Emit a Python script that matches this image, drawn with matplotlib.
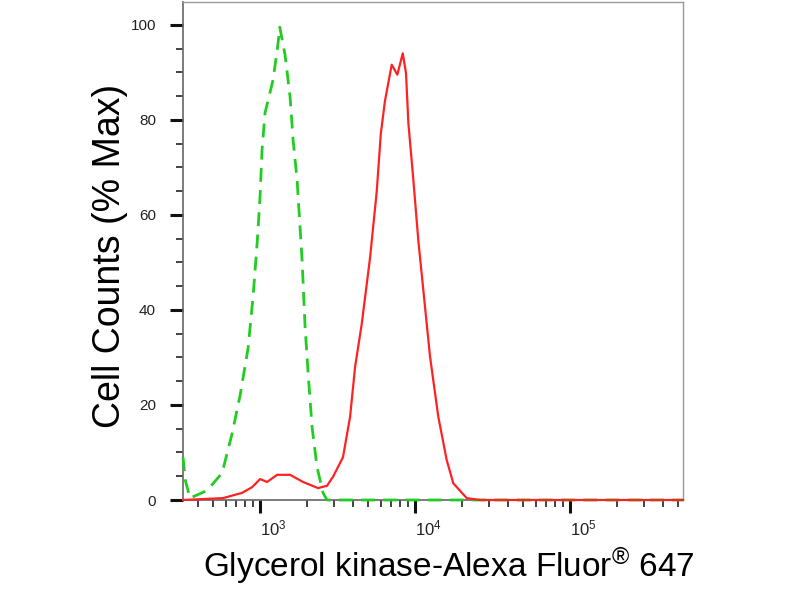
import matplotlib
matplotlib.use("Agg")
import matplotlib.pyplot as plt
from matplotlib.ticker import LogLocator, MultipleLocator, FixedLocator

plt.rcParams["font.family"] = ["Liberation Sans", "DejaVu Sans"]
plt.rcParams["mathtext.default"] = "regular"

# === histogram traces (fluorescence, % max) ===
control_x = [318, 330, 353, 455, 569, 660, 743, 837, 902, 957, 1000, 1030,
             1077, 1213, 1307, 1340, 1449, 1562, 1633, 1733, 1867, 1952,
             2042, 2165, 2332, 2549, 2705, 537000]
control_y = [9, 4, 0.4, 2, 5.7, 14, 22, 32, 43, 54, 64, 73.7,
             81.5, 88.4, 96.2, 99.5, 93.7, 84.8, 75.8, 67.4, 50.5, 36.4,
             26.7, 15.4, 6.9, 1.5, 0, 0]

sample_x = [318, 577, 765, 888, 1000, 1110, 1288, 1562, 1892, 2366, 2705,
            2958, 3429, 3810, 4104, 4529, 5128, 5665, 6012, 6400, 7074,
            7690, 8337, 8750, 9062, 9756, 10500, 11600, 12500, 14140,
            16020, 17680, 21560, 26230, 537000]
sample_y = [0, 0.4, 1.5, 2.7, 4.4, 3.8, 5.3, 5.3, 3.8, 2.5, 3.0,
            4.9, 9, 17.5, 28, 37, 51, 65, 77, 84, 91.6,
            89.5, 94, 89.8, 79.3, 67.4, 54.7, 40.7, 30.2, 17.5,
            8.4, 3.5, 0.4, 0, 0]

y_major = [0, 20, 40, 60, 80, 100]

fig = plt.figure(figsize=(8, 6), dpi=100)
ax = fig.add_axes([183 / 800, 100 / 600, 500 / 800, 498 / 600])

ax.plot(control_x, control_y, color="#22cc22", lw=2.0, dashes=(5, 3),
        clip_on=False, zorder=3)
ax.plot(sample_x, sample_y, color="#ff2222", lw=1.6, clip_on=False, zorder=4)

ax.set_xscale("log")
ax.set_xlim(318, 537000)
ax.set_ylim(0, 104.8)

ax.xaxis.set_major_locator(LogLocator(base=10, numticks=10))
ax.xaxis.set_minor_locator(LogLocator(base=10, subs=range(2, 10), numticks=20))
ax.yaxis.set_major_locator(FixedLocator(y_major))
ax.yaxis.set_minor_locator(MultipleLocator(5))

ax.tick_params(which="major", length=9.5, width=2.2, color="#111",
               labelcolor="#222")
ax.tick_params(axis="y", which="major", pad=10, labelsize=11)
ax.tick_params(axis="x", which="major", pad=4, labelsize=12)
ax.tick_params(which="minor", length=5, width=1.2, color="#222")

# the flow cytometry software puts decade labels just right of the tick
for lbl in ax.get_xticklabels():
    lbl.set_horizontalalignment("left")

for side in ["left", "bottom"]:
    ax.spines[side].set_color("#666")
    ax.spines[side].set_linewidth(1.2)
for side in ["top", "right"]:
    ax.spines[side].set_color("#999")
    ax.spines[side].set_linewidth(1.0)

fig.text(449 / 800, 1 - 577 / 600, "Glycerol kinase-Alexa Fluor$^{®}$ 647",
         ha="center", va="baseline", fontsize=24)
fig.text(110 / 800, 1 - 256 / 600, "Cell Counts (% Max)", rotation=90,
         ha="center", va="center", fontsize=27)

fig.savefig("out.png", dpi=100)
